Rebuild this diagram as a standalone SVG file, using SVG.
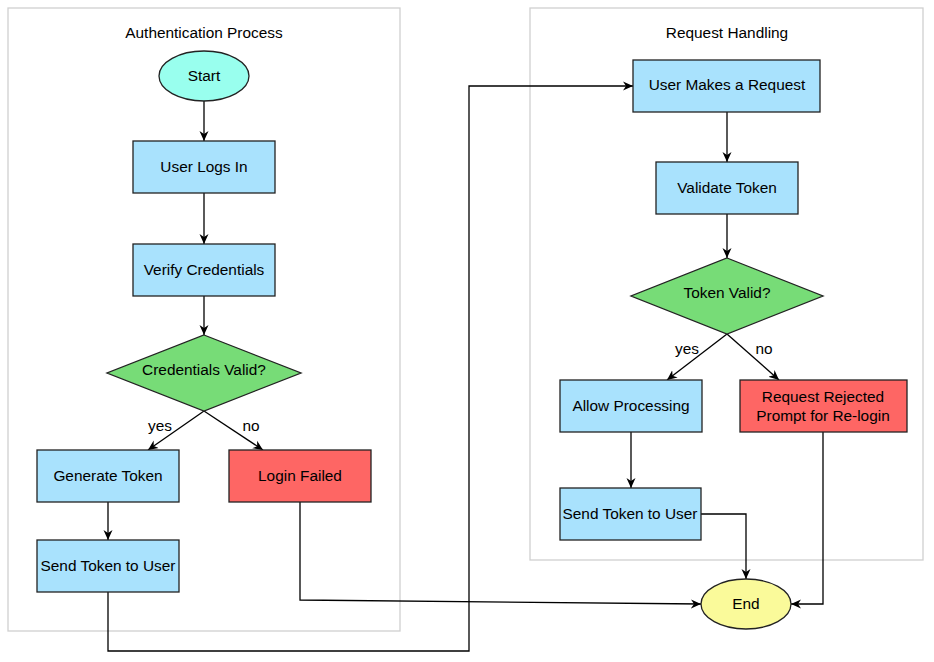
<svg xmlns="http://www.w3.org/2000/svg" width="934" height="662" viewBox="0 0 934 662">
<defs>
<marker id="arr" viewBox="0 0 10 10" refX="10" refY="5" markerWidth="10" markerHeight="10" markerUnits="userSpaceOnUse" orient="auto">
<path d="M0,0.5 L10,5 L0,9.5 L3,5 z" fill="#000"/>
</marker>
<style>
text{font-family:"Liberation Sans",Arial,sans-serif;font-size:15.4px;fill:#000;text-anchor:middle}
.cl{fill:#fff;stroke:#d0d0d0;stroke-width:1.3}
.n{stroke:#222;stroke-width:1.3}
.blue{fill:#a9e2fd}
.red{fill:#fe6664}
.green{fill:#77dc77}
.cyan{fill:#99ffee}
.yellow{fill:#fafa9a}
.e{fill:none;stroke:#000;stroke-width:1.3;marker-end:url(#arr)}
</style>
</defs>
<rect width="934" height="662" fill="#fff"/>
<g id="cluster_auth"><rect class="cl" x="8" y="8" width="392" height="623"/><text x="204" y="38">Authentication Process</text></g>
<g id="cluster_req"><rect class="cl" x="530" y="8" width="393" height="552"/><text x="727" y="38">Request Handling</text></g>
<g id="edges">
<path class="e" d="M204,101 L204,141"/>
<path class="e" d="M204,193 L204,244"/>
<path class="e" d="M204,296 L204,335"/>
<path class="e" d="M204,411 L148,450"/>
<path class="e" d="M204,411 L263,450"/>
<path class="e" d="M108,502 L108,540"/>
<path class="e" d="M300,502 L300,600 L701,604"/>
<path class="e" d="M108,592 L108,651 L469,651 L469,86 L633,86"/>
<path class="e" d="M727,112 L727,162"/>
<path class="e" d="M727,214 L727,258"/>
<path class="e" d="M727,334 L667,380"/>
<path class="e" d="M727,334 L779,380"/>
<path class="e" d="M631,432 L631,488"/>
<path class="e" d="M701,514 L746,514 L746,579"/>
<path class="e" d="M823,432 L823,604 L791,604"/>
<text x="160" y="431">yes</text>
<text x="251" y="431">no</text>
<text x="687" y="354">yes</text>
<text x="764" y="354">no</text>
</g>
<g id="start"><ellipse class="n cyan" cx="204" cy="76" rx="45" ry="25"/><text x="204" y="81">Start</text></g>
<g id="user_logs_in"><rect class="n blue" x="133" y="141" width="142" height="52"/><text x="204" y="172">User Logs In</text></g>
<g id="verify"><rect class="n blue" x="133" y="244" width="142" height="52"/><text x="204" y="275">Verify Credentials</text></g>
<g id="cred_valid"><polygon class="n green" points="204,335 301,373 204,411 107,373"/><text x="204" y="375">Credentials Valid?</text></g>
<g id="gen_token"><rect class="n blue" x="37" y="450" width="142" height="52"/><text x="108" y="481">Generate Token</text></g>
<g id="login_failed"><rect class="n red" x="229" y="450" width="142" height="52"/><text x="300" y="481">Login Failed</text></g>
<g id="send_token_1"><rect class="n blue" x="37" y="540" width="142" height="52"/><text x="108" y="571">Send Token to User</text></g>
<g id="user_request"><rect class="n blue" x="633" y="60" width="187" height="52"/><text x="727" y="90">User Makes a Request</text></g>
<g id="validate"><rect class="n blue" x="656" y="162" width="142" height="52"/><text x="727" y="193">Validate Token</text></g>
<g id="token_valid"><polygon class="n green" points="727,258 823,296 727,334 631,296"/><text x="727" y="298">Token Valid?</text></g>
<g id="allow"><rect class="n blue" x="560" y="380" width="142" height="52"/><text x="631" y="411">Allow Processing</text></g>
<g id="rejected"><rect class="n red" x="740" y="380" width="167" height="52"/><text x="823" y="402">Request Rejected</text><text x="823" y="421">Prompt for Re-login</text></g>
<g id="send_token_2"><rect class="n blue" x="560" y="488" width="141" height="52"/><text x="630" y="519">Send Token to User</text></g>
<g id="end"><ellipse class="n yellow" cx="746" cy="604" rx="45" ry="25"/><text x="746" y="609">End</text></g>
</svg>
